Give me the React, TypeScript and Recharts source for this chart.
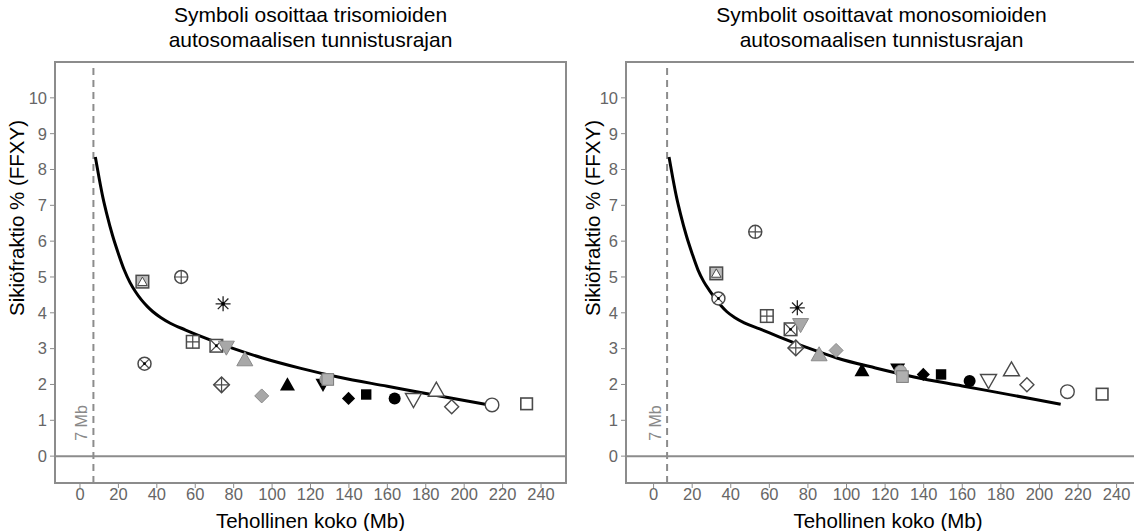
import { ComposedChart, XAxis, YAxis, Line, Scatter, ReferenceLine, ReferenceArea } from 'recharts';

// effective size (Mb) of each autosome marker, and which symbol it uses
const sizes = [32.5, 52.7, 74.5, 58.7, 71, 76.2, 85.8, 33.6, 73.7, 94.6, 108, 126.5, 128, 129, 139.8, 149, 163.8, 173.6, 185.5, 193.5, 214.5, 232.5];
const symbols = [
  'boxTri', 'circPlus', 'asterisk', 'sqPlus', 'sqX', 'grayInvTri', 'grayTri', 'circX', 'diamPlus', 'grayDiam',
  'blackTri', 'blackInvTri', 'grayCirc', 'graySq', 'blackDiam', 'blackSq', 'blackCirc', 'openInvTri', 'openTri',
  'openDiam', 'openCirc', 'openSq',
];
const trisomyFF = [4.87, 5.0, 4.25, 3.19, 3.08, 3.03, 2.7, 2.58, 1.99, 1.68, 2.0, 1.99, 2.14, 2.14, 1.61, 1.72, 1.61, 1.57, 1.85, 1.38, 1.43, 1.46];
const monosomyFF = [5.1, 6.26, 4.14, 3.91, 3.54, 3.66, 2.84, 4.4, 3.02, 2.95, 2.4, 2.42, 2.37, 2.22, 2.28, 2.28, 2.1, 2.1, 2.42, 1.99, 1.8, 1.73];

// detection limit curves
const curveSizes = [8, 10, 12, 14, 17, 20, 23, 26, 29, 32, 35, 38, 42, 47, 55, 65, 80, 95, 115, 135, 160, 185, 211];
const trisomyCurve = [8.35, 7.75, 7.2, 6.75, 6.15, 5.65, 5.2, 4.85, 4.58, 4.36, 4.18, 4.03, 3.87, 3.71, 3.52, 3.3, 3.0, 2.74, 2.45, 2.2, 1.95, 1.7, 1.45];
const monosomyCurve = [8.35, 7.75, 7.2, 6.75, 6.15, 5.65, 5.2, 4.87, 4.62, 4.4, 4.2, 4.03, 3.87, 3.72, 3.55, 3.33, 3.02, 2.74, 2.46, 2.21, 1.96, 1.71, 1.45];

const xTicks = [0, 20, 40, 60, 80, 100, 120, 140, 160, 180, 200, 220, 240];
const yTicks = [0, 1, 2, 3, 4, 5, 6, 7, 8, 9, 10];
const cutoff = 7;

const FONT = '"Liberation Sans", Arial, Helvetica, sans-serif';
const GRID = '#8c8c8c';
const DARK = '#4a4a4a';

function Marker(props: any) {
  const { cx, cy, payload } = props;
  const sym = payload.sym;
  const s = 6.3;
  const tri = (up: boolean, r: number) =>
    up
      ? `${cx - r},${cy + r * 0.8} ${cx + r},${cy + r * 0.8} ${cx},${cy - r * 0.95}`
      : `${cx - r},${cy - r * 0.8} ${cx + r},${cy - r * 0.8} ${cx},${cy + r * 0.95}`;
  const diam = (r: number) => `${cx},${cy - r} ${cx + r},${cy} ${cx},${cy + r} ${cx - r},${cy}`;
  const plus = (r: number) => (
    <path d={`M${cx - r},${cy}H${cx + r}M${cx},${cy - r}V${cy + r}`} stroke={DARK} strokeWidth={1.2} />
  );
  const cross = (r: number) => (
    <path d={`M${cx - r},${cy - r}L${cx + r},${cy + r}M${cx + r},${cy - r}L${cx - r},${cy + r}`} stroke={DARK} strokeWidth={1.2} />
  );
  switch (sym) {
    case 'boxTri':
      return (
        <g>
          <rect x={cx - s} y={cy - s} width={2 * s} height={2 * s} fill="#bdbdbd" stroke={DARK} strokeWidth={1.5} />
          <polygon points={tri(true, 4.8)} fill="#fff" stroke={DARK} strokeWidth={1} />
        </g>
      );
    case 'circPlus':
      return (
        <g>
          <circle cx={cx} cy={cy} r={6.5} fill="#fff" stroke={DARK} strokeWidth={1.5} />
          {plus(6.5)}
        </g>
      );
    case 'circX':
      return (
        <g>
          <circle cx={cx} cy={cy} r={6.5} fill="#fff" stroke={DARK} strokeWidth={1.5} />
          {cross(4.6)}
          <circle cx={cx} cy={cy} r={1.4} fill="#000" />
        </g>
      );
    case 'sqPlus':
      return (
        <g>
          <rect x={cx - s} y={cy - s} width={2 * s} height={2 * s} fill="#fff" stroke={DARK} strokeWidth={1.5} />
          {plus(s)}
        </g>
      );
    case 'sqX':
      return (
        <g>
          <rect x={cx - s} y={cy - s} width={2 * s} height={2 * s} fill="#fff" stroke={DARK} strokeWidth={1.5} />
          {cross(s)}
          <circle cx={cx} cy={cy} r={1.4} fill="#000" />
        </g>
      );
    case 'diamPlus':
      return (
        <g>
          <polygon points={diam(7.8)} fill="#fff" stroke={DARK} strokeWidth={1.5} />
          {plus(7.8)}
        </g>
      );
    case 'asterisk':
      return (
        <g>
          <path
            d={`M${cx - 7.5},${cy}H${cx + 7.5}M${cx},${cy - 7.5}V${cy + 7.5}M${cx - 5.3},${cy - 5.3}L${cx + 5.3},${cy + 5.3}M${cx + 5.3},${cy - 5.3}L${cx - 5.3},${cy + 5.3}`}
            stroke="#222"
            strokeWidth={1.3}
          />
          <circle cx={cx} cy={cy} r={1.8} fill="#000" />
        </g>
      );
    case 'grayTri':
      return <polygon points={tri(true, 8)} fill="#a8a8a8" stroke="#8a8a8a" strokeWidth={1} />;
    case 'grayInvTri':
      return <polygon points={tri(false, 8)} fill="#a8a8a8" stroke="#8a8a8a" strokeWidth={1} />;
    case 'grayDiam':
      return <polygon points={diam(7)} fill="#a8a8a8" stroke="#8a8a8a" strokeWidth={1} />;
    case 'graySq':
      return <rect x={cx - 5.8} y={cy - 5.8} width={11.6} height={11.6} fill="#b0b0b0" stroke="#7a7a7a" strokeWidth={1} />;
    case 'grayCirc':
      return <circle cx={cx} cy={cy} r={6} fill="#b0b0b0" stroke="#8a8a8a" strokeWidth={1} />;
    case 'blackTri':
      return <polygon points={tri(true, 7.5)} fill="#000" />;
    case 'blackInvTri':
      return <polygon points={tri(false, 7.5)} fill="#000" />;
    case 'blackDiam':
      return <polygon points={diam(6.6)} fill="#000" />;
    case 'blackSq':
      return <rect x={cx - 5.2} y={cy - 5.2} width={10.4} height={10.4} fill="#000" />;
    case 'blackCirc':
      return <circle cx={cx} cy={cy} r={6} fill="#000" />;
    case 'openTri':
      return <polygon points={tri(true, 8)} fill="#fff" stroke={DARK} strokeWidth={1.4} />;
    case 'openInvTri':
      return <polygon points={tri(false, 8)} fill="#fff" stroke={DARK} strokeWidth={1.4} />;
    case 'openDiam':
      return <polygon points={diam(7)} fill="#fff" stroke={DARK} strokeWidth={1.4} />;
    case 'openCirc':
      return <circle cx={cx} cy={cy} r={6.8} fill="#fff" stroke={DARK} strokeWidth={1.4} />;
    case 'openSq':
      return <rect x={cx - 5.8} y={cy - 5.8} width={11.6} height={11.6} fill="#fff" stroke={DARK} strokeWidth={1.6} />;
    default:
      return null;
  }
}

function Panel({ title, ff, curve, xDomain, yAxisWidth, width, labelX, left }: any) {
  const points = sizes.map((x, i) => ({ x, y: ff[i], sym: symbols[i] }));
  const line = curveSizes.map((x, i) => ({ x, y: curve[i] }));
  const yDomain = [-0.75, 11];
  return (
    <div style={{ position: 'absolute', left, top: 0, width, height: 531 }}>
      <div
        style={{
          position: 'absolute',
          left: yAxisWidth,
          width: 511,
          top: 2,
          textAlign: 'center',
          fontFamily: FONT,
          fontSize: 21,
          lineHeight: '25px',
          color: '#000',
        }}
      >
        {title.map((t: string) => (
          <div key={t}>{t}</div>
        ))}
      </div>
      <ComposedChart width={width} height={531} margin={{ top: 62, right: 4, bottom: 0, left: 0 }}>
        <XAxis
          type="number"
          dataKey="x"
          domain={xDomain}
          ticks={xTicks}
          allowDataOverflow
          height={48}
          axisLine={false}
          tickLine={{ stroke: GRID }}
          tickSize={5}
          tickMargin={0}
          tick={{ fill: '#666', fontSize: 16.5, fontFamily: FONT }}
          label={{ value: 'Tehollinen koko (Mb)', position: 'insideBottom', offset: 3, fill: '#000', fontSize: 20.5, fontFamily: FONT }}
        />
        <YAxis
          type="number"
          dataKey="y"
          domain={yDomain}
          ticks={yTicks}
          allowDataOverflow
          width={yAxisWidth}
          axisLine={false}
          tickLine={{ stroke: GRID }}
          tickSize={5}
          tickMargin={3}
          tick={{ fill: '#666', fontSize: 16.5, fontFamily: FONT }}
          label={() => (
            <text
              x={labelX}
              y={218}
              transform={`rotate(-90 ${labelX} 218)`}
              textAnchor="middle"
              dominantBaseline="central"
              fill="#000"
              fontSize={20.5}
              fontFamily={FONT}
            >
              Sikiöfraktio % (FFXY)
            </text>
          )}
        />
        <ReferenceArea
          x1={xDomain[0]}
          x2={xDomain[1]}
          y1={yDomain[0]}
          y2={yDomain[1]}
          fill="none"
          stroke={GRID}
          strokeWidth={2}
          ifOverflow="visible"
        />
        <ReferenceLine y={0} stroke={GRID} strokeWidth={2} />
        <ReferenceLine
          x={cutoff}
          stroke={GRID}
          strokeWidth={2}
          strokeDasharray="7 5"
          label={(p: any) => {
            const vb = p.viewBox;
            const x = vb.x - 12;
            const y = vb.y + vb.height - 60;
            return (
              <text x={x} y={y} transform={`rotate(-90 ${x} ${y})`} textAnchor="middle" dominantBaseline="central" fill="#888" fontSize={16} fontFamily={FONT}>
                7 Mb
              </text>
            );
          }}
        />
        <Line data={line} dataKey="y" type="monotone" stroke="#000" strokeWidth={3} dot={false} isAnimationActive={false} />
        <Scatter data={points} dataKey="y" shape={Marker} isAnimationActive={false} />
      </ComposedChart>
    </div>
  );
}

export default function App() {
  return (
    <div style={{ position: 'absolute', left: 0, top: 0, width: 1134, height: 531, overflow: 'hidden', background: '#fff' }}>
      <Panel
        title={['Symboli osoittaa trisomioiden', 'autosomaalisen tunnistusrajan']}
        ff={trisomyFF}
        curve={trisomyCurve}
        xDomain={[-13, 253]}
        yAxisWidth={55}
        width={570}
        labelX={16}
        left={0}
      />
      <Panel
        title={['Symbolit osoittavat monosomioiden', 'autosomaalisen tunnistusrajan']}
        ff={monosomyFF}
        curve={monosomyCurve}
        xDomain={[-14.3, 257.3]}
        yAxisWidth={56}
        width={584}
        labelX={22}
        left={570}
      />
    </div>
  );
}
